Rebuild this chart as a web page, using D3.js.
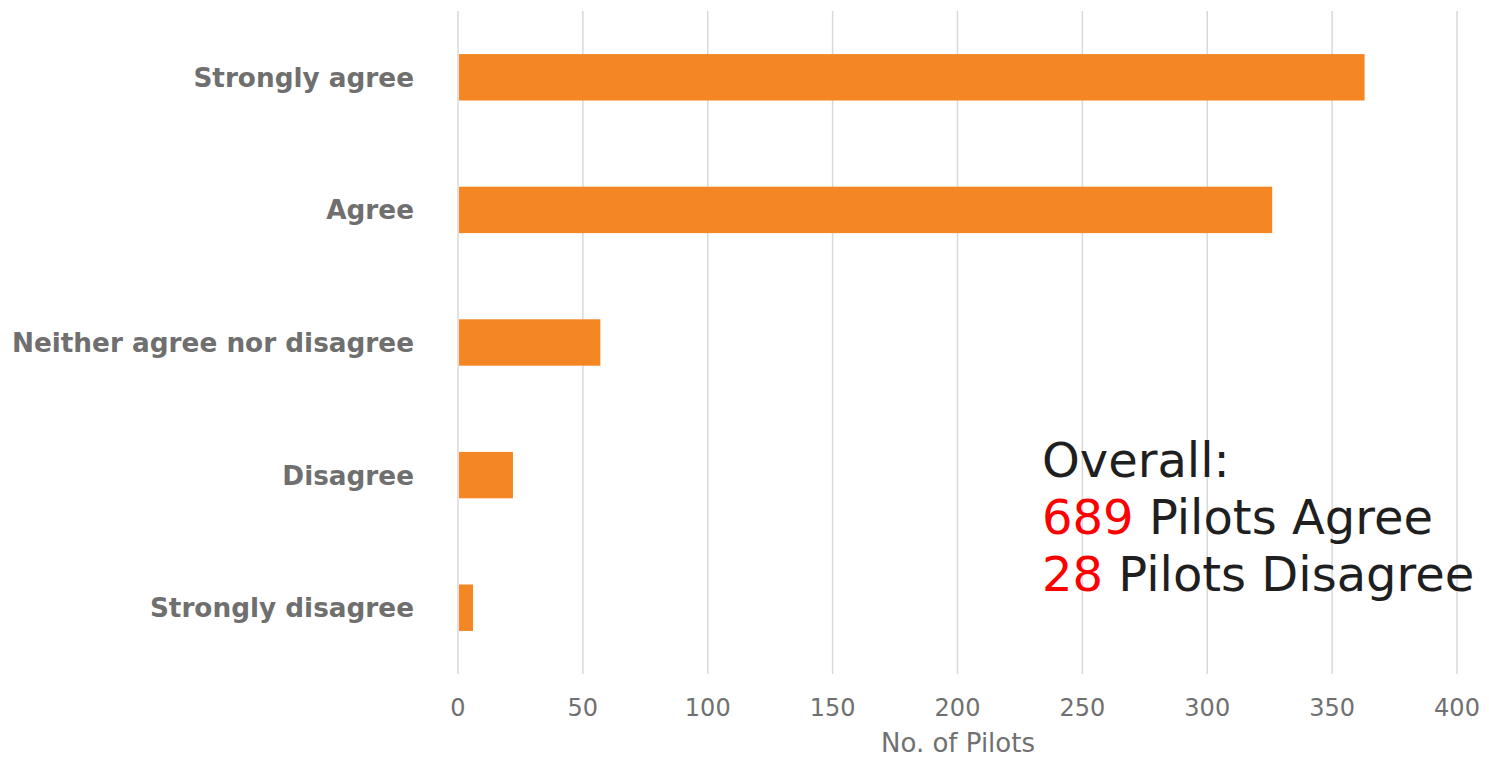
<!DOCTYPE html>
<html><head><meta charset="utf-8">
<script src="https://cdn.jsdelivr.net/npm/d3@7"></script>
<style>body{margin:0;background:#fff}svg{display:block}</style>
</head><body>
<script>
const categories = ["Strongly agree","Agree","Neither agree nor disagree","Disagree","Strongly disagree"];
const values = [363, 326, 57, 22, 6];
const xTicks = [0,50,100,150,200,250,300,350,400];
const axisTitle = "No. of Pilots";
const noteLines = [["", "Overall:"], ["689", " Pilots Agree"], ["28", " Pilots Disagree"]];

const W = 1489, H = 759;
const m = {left: 458, right: 32, top: 11, bottom: 85};
const svg = d3.select("body").append("svg").attr("width", W).attr("height", H);

const x = d3.scaleLinear().domain([0, 400]).range([m.left, W - m.right]);
const y = d3.scaleBand().domain(categories).range([m.top, H - m.bottom]).paddingInner(0.65).paddingOuter(0.325);

svg.append("g").selectAll("line").data(xTicks).join("line")
  .attr("x1", d => x(d)).attr("x2", d => x(d))
  .attr("y1", m.top).attr("y2", H - m.bottom)
  .attr("stroke", "#d9d9d9").attr("stroke-width", 1.5);

svg.append("g").selectAll("rect").data(values).join("rect")
  .attr("x", x(0) + 1)
  .attr("y", (d, i) => y(categories[i]))
  .attr("width", d => x(d) - x(0) - 1)
  .attr("height", y.bandwidth())
  .attr("fill", "#f58624");

svg.append("g").selectAll("text").data(categories).join("text")
  .attr("x", 414).attr("y", d => y(d) + y.bandwidth() / 2)
  .attr("dy", "0.36em").attr("text-anchor", "end")
  .attr("font-family", "Verdana, 'DejaVu Sans', sans-serif")
  .attr("font-weight", "bold").attr("font-size", 26.3).attr("fill", "#6f6f6f")
  .text(d => d);

svg.append("g").selectAll("text").data(xTicks).join("text")
  .attr("x", d => x(d)).attr("y", 716)
  .attr("text-anchor", "middle")
  .attr("font-family", "Verdana, 'DejaVu Sans', sans-serif")
  .attr("font-size", 24).attr("fill", "#707070")
  .text(d => d);

svg.append("text").attr("x", 958).attr("y", 752)
  .attr("text-anchor", "middle")
  .attr("font-family", "Verdana, 'DejaVu Sans', sans-serif")
  .attr("font-size", 26).attr("fill", "#707070")
  .text(axisTitle);

const note = svg.append("text")
  .attr("font-family", "Verdana, 'DejaVu Sans', sans-serif")
  .attr("font-size", 48).attr("fill", "#1f1f1f");
noteLines.forEach((ln, i) => {
  const t = note.append("tspan").attr("x", 1042).attr("y", 477 + i * 57);
  if (ln[0]) t.append("tspan").attr("fill", "#ff0000").text(ln[0]);
  t.append("tspan").text(ln[1]);
});
</script>
</body></html>
